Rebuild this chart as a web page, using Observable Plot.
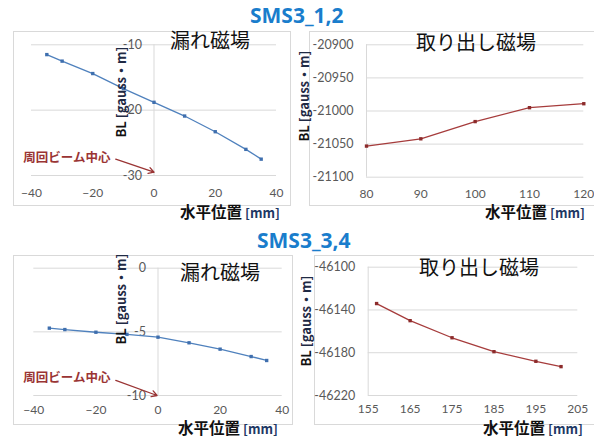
<!DOCTYPE html>
<html>
<head>
<meta charset="utf-8">
<script src="https://cdn.jsdelivr.net/npm/d3@7"></script>
<script src="https://cdn.jsdelivr.net/npm/@observablehq/plot@0.6"></script>
<style>
  html, body { margin: 0; padding: 0; background: #fff; }
  #root { position: relative; width: 594px; height: 436px; overflow: hidden; background: #fff; }
  .box { position: absolute; border: 1px solid #d9d9d9; box-sizing: border-box; }
  .plot { position: absolute; }
  .t { position: absolute; white-space: nowrap; font-family: "Noto Sans CJK JP", "Noto Sans", sans-serif; line-height: 1; }
  .t span { line-height: 1; }
  .sms { color: #1a7dcc; font-weight: bold; font-size: 21px; font-family: "Open Sans", "Noto Sans", sans-serif; }
  .ttl { color: #111; font-size: 20px; }
  .xl { color: #111; font-weight: bold; font-size: 15.5px; }
  .xl span { font-size: 13px; color: #1f3864; }
  .yl { color: #111; font-weight: bold; font-size: 13px; transform: translate(-50%, -50%) rotate(-90deg); }
  .yl span { color: #1f2a44; }
</style>
</head>
<body>
<div id="root"></div>
<script>
// ---- Data ----
const leakX = [-35, -30, -20, -10, 0, 10, 20, 30, 35];
const leak12Y = [-11.5, -12.5, -14.4, -16.7, -18.8, -20.9, -23.3, -26.0, -27.5];
const leak34Y = [-4.71, -4.82, -5.03, -5.2, -5.42, -5.86, -6.36, -6.94, -7.25];

const ext12X = [80, 90, 100, 110, 120];
const ext12Y = [-21053, -21042, -21016, -20995, -20989];

const ext34X = [157, 165, 175, 185, 195, 201];
const ext34Y = [-46134, -46150, -46166, -46179, -46188, -46193];

const leakXTicks = [-40, -20, 0, 20, 40];
const leak12YTicks = [-10, -20, -30];
const leak34YTicks = [0, -5, -10];
const ext12XTicks = [80, 90, 100, 110, 120];
const ext12YTicks = [-20900, -20950, -21000, -21050, -21100];
const ext34XTicks = [155, 165, 175, 185, 195, 205];
const ext34YTicks = [-46100, -46140, -46180, -46220];

const groupTitles = ["SMS3_1,2", "SMS3_3,4"];
const leakTitle = "漏れ磁場";
const extTitle = "取り出し磁場";
const annoLabel = "周回ビーム中心";
// annotation (data coordinates): label end and arrow from label to beam centre
const anno12 = [{tx: -14.2, ty: -27.3, x1: -12.5, y1: -27.5, x2: 0, y2: -29.5}];
const anno34 = [{tx: -15.3, ty: -8.63, x1: -13.6, y1: -8.82, x2: -0.3, y2: -10}];

const blue = "#4f81bd", blueDot = "#3f6fae";
const red = "#a63c3c", redDot = "#8c2b2b";
const annoColor = "#9a3434";
const gridColor = "#d9d9d9";
const tickColor = "#595959";

const root = document.getElementById("root");

function addBox(l, t, w, h) {
  const d = document.createElement("div");
  d.className = "box";
  Object.assign(d.style, {left: l + "px", top: t + "px", width: w + "px", height: h + "px"});
  root.appendChild(d);
}
function addText(cls, html, l, t) {
  const d = document.createElement("div");
  d.className = "t " + cls;
  d.innerHTML = html;
  d.style.left = l + "px";
  d.style.top = t + "px";
  root.appendChild(d);
}

function panel(o) {
  const data = o.xs.map((x, i) => ({x, y: o.ys[i]}));
  const marks = [
    Plot.ruleY(o.yTicks, {stroke: gridColor, strokeWidth: 1}),
    Plot.ruleX([o.cross], {y1: o.yDomain[0], y2: o.yDomain[1], stroke: gridColor, strokeWidth: 1}),
    Plot.axisX(o.xTicks, {tickSize: 0, tickPadding: o.padX, fontSize: 12, fill: tickColor, label: null}),
  ];
  if (o.inner) {
    marks.push(Plot.text(o.yTicks, {x: () => o.cross, y: d => d, text: d => String(d), textAnchor: "end", dx: -12, fontSize: 12.5, fill: tickColor}));
  } else {
    marks.push(Plot.axisY(o.yTicks, {tickSize: 0, tickPadding: 13, fontSize: 12.5, fill: tickColor, tickFormat: d => String(d), label: null}));
  }
  marks.push(Plot.line(data, {x: "x", y: "y", stroke: o.color, strokeWidth: 1.3}));
  marks.push(Plot.dot(data, {x: "x", y: "y", symbol: "square", r: 1.9, fill: o.dot, stroke: null}));
  if (o.anno) {
    marks.push(Plot.arrow(o.anno, {x1: "x1", y1: "y1", x2: "x2", y2: "y2", stroke: annoColor, strokeWidth: 1.3, headLength: 7}));
    marks.push(Plot.text(o.anno, {x: "tx", y: "ty", text: () => annoLabel, textAnchor: "end", fontSize: 12.5, fontWeight: "bold", fill: annoColor, fontFamily: "'Noto Sans CJK JP', sans-serif"}));
  }
  const svg = Plot.plot({
    width: o.w, height: o.h,
    marginLeft: o.m[0], marginRight: o.m[1], marginTop: o.m[2], marginBottom: o.m[3],
    x: {domain: o.xDomain, axis: null},
    y: {domain: o.yDomain, axis: null},
    style: {fontFamily: "Lato, 'Noto Sans', sans-serif", fontSize: "12px", color: tickColor, background: "transparent", overflow: "visible"},
    marks
  });
  svg.classList.add("plot");
  svg.style.left = o.l + "px";
  svg.style.top = o.t + "px";
  svg.style.position = "absolute";
  root.appendChild(svg);
}

// boxes
addBox(13, 31, 278, 175);
addBox(309, 31, 295, 175);
addBox(13, 255, 280, 170);
addBox(314, 255, 290, 170);

panel({l: 13, t: 31, w: 277, h: 174, m: [18, 14, 13.3, 30], xs: leakX, ys: leak12Y,
  xDomain: [-40, 40], yDomain: [-30, -10], xTicks: leakXTicks, yTicks: leak12YTicks,
  cross: 0, inner: true, padX: 13, color: blue, dot: blueDot, anno: anno12});
panel({l: 309, t: 31, w: 285, h: 174, m: [57, 10.7, 13.3, 28.3], xs: ext12X, ys: ext12Y,
  xDomain: [80, 120], yDomain: [-21100, -20900], xTicks: ext12XTicks, yTicks: ext12YTicks,
  cross: 80, inner: false, padX: 12, color: red, dot: redDot});
panel({l: 13, t: 255, w: 280, h: 169, m: [20.3, 11.3, 12.7, 29], xs: leakX, ys: leak34Y,
  xDomain: [-40, 40], yDomain: [-10, 0], xTicks: leakXTicks, yTicks: leak34YTicks,
  cross: 0, inner: true, padX: 10, color: blue, dot: blueDot, anno: anno34});
panel({l: 314, t: 255, w: 280, h: 169, m: [53.7, 16.7, 11.7, 29], xs: ext34X, ys: ext34Y,
  xDomain: [155, 205], yDomain: [-46220, -46100], xTicks: ext34XTicks, yTicks: ext34YTicks,
  cross: 155, inner: false, padX: 9, color: red, dot: redDot});

// texts
addText("sms", groupTitles[0], 250, 5);
addText("sms", groupTitles[1], 257, 230);
addText("ttl", leakTitle, 170, 30);
addText("ttl", leakTitle, 180, 262);
addText("ttl", extTitle, 416, 32);
addText("ttl", extTitle, 419, 257);
const xlab = "水平位置<span> [mm]</span>";
addText("xl", xlab, 180, 204);
addText("xl", xlab, 485, 204);
addText("xl", xlab, 178, 419.5);
addText("xl", xlab, 483, 419.5);
const ylab = "BL <span>[gauss・m]</span>";
addText("yl", ylab, 120, 92);
addText("yl", ylab, 303, 96);
addText("yl", ylab, 120, 299);
addText("yl", ylab, 305, 321);
</script>
</body>
</html>
